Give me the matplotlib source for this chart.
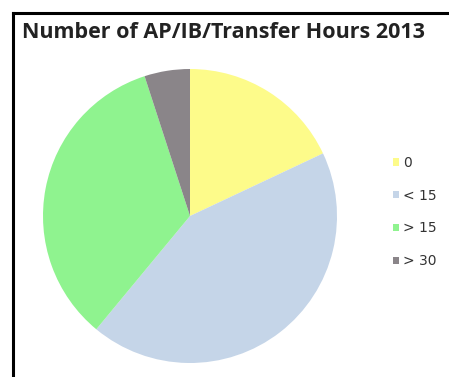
import matplotlib.pyplot as plt
from matplotlib.lines import Line2D

# AP/IB/transfer hours share, 2013
labels = ['0', '< 15', '> 15', '> 30']
shares = [18, 43, 34, 5]
colors = ['#FDFB8A', '#C5D5E8', '#8FF38F', '#8A8589']

fig = plt.figure(figsize=(4.49, 3.77), dpi=100)
W, H = 449, 377

# pie axes: centre (190, 216) px, radius 147 px
cx, cy, r = 190, 216, 147
ax = fig.add_axes([(cx - r) / W, 1 - (cy + r) / H, 2 * r / W, 2 * r / H])
wedges, _ = ax.pie(shares, colors=colors, startangle=90, counterclock=False,
                   radius=1, wedgeprops={'linewidth': 0})
ax.set_xlim(-1, 1)
ax.set_ylim(-1, 1)
ax.axis('off')

fig.text(22 / W, 1 - 33 / H, 'Number of AP/IB/Transfer Hours 2013',
         fontsize=15.5, fontweight='bold', family='Open Sans',
         ha='left', va='center', color='#222222')

fig.legend(wedges, labels, loc='upper left',
           bbox_to_anchor=(386 / W, 1 - 149 / H), frameon=False,
           fontsize=10, handlelength=0.45, handleheight=0.45, handletextpad=0.3,
           labelspacing=1.35, borderpad=0, labelcolor='#333333')

# frame lines along top and left
fig.add_artist(Line2D([12.5 / W, 1], [1 - 12.5 / H, 1 - 12.5 / H],
                      color='black', linewidth=2.2, transform=fig.transFigure))
fig.add_artist(Line2D([12.5 / W, 12.5 / W], [0, 1 - 12.5 / H],
                      color='black', linewidth=2.2, transform=fig.transFigure))

fig.savefig('out.png', dpi=100)
